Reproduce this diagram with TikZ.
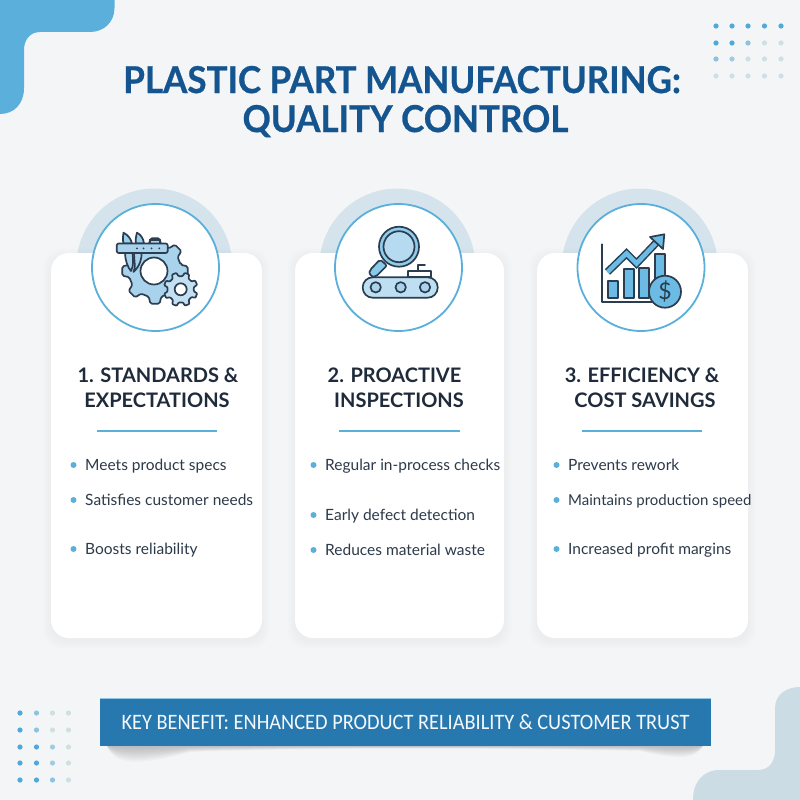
\documentclass[tikz,border=0pt]{standalone}
\usepackage{fontspec}
\setmainfont{Lato}
\newfontfamily\bannerfont[FakeStretch=.925]{Carlito}
\newfontfamily\titlefont[UprightFont=*-Bold,UprightFeatures={FakeStretch=.945,FakeBold=.7}]{Lato}
\definecolor{bgc}{HTML}{F4F5F7}
\definecolor{skyc}{HTML}{5BB0DB}
\definecolor{palec}{HTML}{CBDCE4}
\definecolor{archc}{HTML}{D5E4EC}
\definecolor{titlec}{HTML}{14558F}
\definecolor{headc}{HTML}{1F2B3A}
\definecolor{bodyc}{HTML}{2C3A4A}
\definecolor{bannerc}{HTML}{2878B0}
\definecolor{inkc}{HTML}{2B3D4F}
\definecolor{iconc}{HTML}{A9D3EC}
\definecolor{iconb}{HTML}{6BBBE5}
\definecolor{dotb}{HTML}{4FA9DA}
\definecolor{dotm}{HTML}{8CC3DE}
\definecolor{dotl}{HTML}{D0DFE6}
\tikzset{
  ttl/.style={font=\fontsize{37}{40}\selectfont\titlefont,text=titlec,anchor=base,inner sep=0pt},
  hd/.style={font=\fontsize{20}{24}\selectfont\bfseries,text=headc,anchor=base,inner sep=0pt},
  bodytxt/.style={font=\fontsize{15.5}{18}\selectfont,text=bodyc,anchor=base west,inner sep=0pt},
  bul/.style={circle,fill=skyc,minimum size=6pt,inner sep=0pt},
  divd/.style={draw=skyc,line width=1.8pt},
  ring/.style={circle,draw=skyc,line width=1.8pt,fill=white,minimum size=127pt,inner sep=0pt},
  ink/.style={draw=inkc,line width=1.7pt,line join=round,line cap=round},
}
\newcommand{\cardbox}[4]{% name,x1,x2,arc centre
  \fill[archc] (#4-78,253) arc[start angle=190,end angle=350,x radius=78,y radius=78] -- cycle;
  \foreach \s in {1,...,8}{\fill[black!60!blue,opacity=.004,rounded corners=18pt] (#2-\s,253-\s+3) rectangle (#3+\s,638+\s+3);}
  \fill[white,rounded corners=18pt] (#2,253) rectangle (#3,638);
  \node[ring] (#1) at (#4,267.5) {};
}
\newcommand{\gearpath}[6]{% cx,cy,ro,ri,n,phase
  ({#1+#4*cos(#6-0.3*360/#5)},{#2+#4*sin(#6-0.3*360/#5)})
  \foreach \k in {1,...,#5}{
    -- ({#1+#3*cos(#6+(\k-1)*360/#5-0.18*360/#5)},{#2+#3*sin(#6+(\k-1)*360/#5-0.18*360/#5)})
    -- ({#1+#3*cos(#6+(\k-1)*360/#5+0.18*360/#5)},{#2+#3*sin(#6+(\k-1)*360/#5+0.18*360/#5)})
    -- ({#1+#4*cos(#6+(\k-1)*360/#5+0.3*360/#5)},{#2+#4*sin(#6+(\k-1)*360/#5+0.3*360/#5)})
    -- ({#1+#4*cos(#6+\k*360/#5-0.3*360/#5)},{#2+#4*sin(#6+\k*360/#5-0.3*360/#5)})
  } -- cycle
}
\begin{document}
\begin{tikzpicture}[x=1pt,y=-1pt]
\useasboundingbox (0,0) rectangle (800,800);
\fill[bgc] (0,0) rectangle (800,800);
% corner shapes
\fill[skyc] (0,0) -- (114.5,0) -- (114.5,8) .. controls (114.5,22) and (104,32) .. (90,32) -- (40,32)
  .. controls (30,32) and (24,40) .. (24,50) -- (24,88) .. controls (24,104) and (14,114) .. (0,114) -- cycle;
\fill[palec] (800,800) -- (693,800) .. controls (693,782) and (703,770) .. (720,770) -- (758,770)
  .. controls (769,770) and (775,762) .. (775,750) -- (775,708) .. controls (775,695) and (786,687) .. (800,687) -- cycle;
% dots
\foreach \x/\y/\c in {716/26/dotb,732/26/dotb,748/26/dotb,764.5/26/dotb,781/26/dotb,
  716/43/dotb,732/43/dotb,748/43/dotm,764.5/43/dotl,781/43/dotl,
  716/59/dotm,732/59/dotm!70!dotl,748/59/dotl,764.5/59/dotl,781/59/dotl,
  716/76/dotl,732/76/dotl,748/76/dotl,764.5/76/dotl,781/76/dotl,
  20/713/dotb,36.5/713/dotm,52.5/713/dotl,68.5/713/dotl,
  20/730/dotb,36.5/730/dotm,52.5/730/dotl,68.5/730/dotl,
  20/747/dotb,36.5/747/dotb,52.5/747/dotm!70!dotl,68.5/747/dotl,
  20/763/dotb,36.5/763/dotb,52.5/763/dotm!70!dotl,68.5/763/dotl,
  20/780/dotb,36.5/780/dotb,52.5/780/dotm,68.5/780/dotl}
  {\fill[\c] (\x,\y) circle[radius=2.6];}
% title
\node[ttl] (title1) at (402,93) {PLASTIC PART MANUFACTURING:};
\node[ttl] (title2) at (405.5,132) {QUALITY CONTROL};
% cards
\cardbox{ringa}{51}{262}{155.5}
\cardbox{ringb}{295}{504}{398.5}
\cardbox{ringc}{537}{748}{641}
% icon 1
\draw[ink,fill=iconc,rounded corners=1.5pt] \gearpath{155}{271}{33}{26.5}{8}{0};
\draw[ink,fill=white] (154,271) circle[radius=13.5];
\draw[ink,fill=iconc!70,rounded corners=.8pt] \gearpath{180.7}{289.3}{17}{13.3}{8}{22};
\draw[ink,fill=white] (180.7,289.3) circle[radius=6];
\draw[ink,fill=iconb!70] (123.5,243.5) .. controls (122.5,240) and (123,236) .. (123.5,232.7) .. controls (128,235) and (131,239) .. (132,243.5) -- cycle;
\draw[ink,fill=iconb!70] (135.7,243.5) .. controls (135.5,240) and (136,236) .. (137,232.7) .. controls (141,234.5) and (143.5,239) .. (144,243.5) -- cycle;
\draw[ink,fill=iconc] (125,253) .. controls (125,260) and (128,268) .. (131,271) .. controls (134,266) and (133,258) .. (132.5,253) -- cycle;
\draw[ink,fill=iconc] (134,253) .. controls (134,260) and (136,268) .. (133.5,272) .. controls (140,266) and (142,258) .. (141.5,253) -- cycle;
\draw[ink,fill=iconc] (150,243.5) rectangle (160,240);
\draw[ink,fill=iconc,rounded corners=2pt] (116.7,243.5) rectangle (167.7,253);
\foreach \x in {137,143.5,151.5,159.3}{\fill[inkc] (\x,248.3) circle[radius=1];}
% icon 2
\draw[ink,fill=iconb!80,rounded corners=2pt] (380,259.5) -- (387,265.5) -- (376,276.5) .. controls (372,277) and (369,274) .. (370,270) -- cycle;
\draw[ink,fill=iconb!75] (399,246.7) circle[radius=20];
\draw[ink,fill=iconc!85] (399,246.7) circle[radius=15.5];
\draw[ink,fill=white] (408,277.3) rectangle (430.7,270.7);
\draw[ink] (418.3,270.7) -- (418.3,265) -- (425,265);
\draw[ink,fill=iconc!75,rounded corners=10pt] (362.7,277.3) rectangle (437.7,297.7);
\foreach \x in {375.7,400.7,425}{\draw[ink,fill=iconc] (\x,287.3) circle[radius=5.2];}
% icon 3
\foreach \a/\b/\c in {608.3/618.3/280.7,624/634/269.3,639.3/649.3/268.3,655/665/254}
  {\draw[ink,fill=iconb] (\a,\c) rectangle (\b,297.7);}
\draw[ink] (601.7,244.3) -- (601.7,301.7) -- (652,301.7);
\draw[inkc,line width=7.6pt,line cap=butt,line join=miter] (607.5,272) -- (626.5,253.5) -- (636.5,263.5) -- (656,243);
\draw[iconb,line width=4.6pt,line cap=butt,line join=miter] (607.5,272) -- (626.5,253.5) -- (636.5,263.5) -- (656,243);
\draw[ink,fill=iconb] (664.3,234.3) -- (650,237) -- (663,249) -- cycle;
\draw[ink,fill=iconb] (665,291.7) circle[radius=16];
\node[font=\fontsize{23}{24}\selectfont,text=inkc,inner sep=0pt] (dollar) at (665,291.7) {\$};
% headings
\node[hd] (h1a) at (158,382) {1. STANDARDS \&};
\node[hd] (h1b) at (157,407.5) {EXPECTATIONS};
\node[hd] (h2a) at (394.5,382) {2. PROACTIVE};
\node[hd] (h2b) at (399,407.5) {INSPECTIONS};
\node[hd] (h3a) at (642,382) {3. EFFICIENCY \&};
\node[hd] (h3b) at (645,407.5) {COST SAVINGS};
% dividers
\draw[divd] (97,431) -- (217,431);
\draw[divd] (339,431) -- (460,431);
\draw[divd] (582,431) -- (702,431);
% bullets
\foreach \n/\x/\y/\t in {
  a/85/470/Meets product specs,
  b/85/505/Satisfies customer needs,
  c/85/554/Boosts reliability,
  d/325/470/Regular in-process checks,
  e/325/520/Early defect detection,
  f/325/555/Reduces material waste,
  g/568/470/Prevents rework,
  h/568/505/{\fontsize{15}{18}\selectfont Maintains production speed},
  i/568/554/Increased profit margins}
{\node[bodytxt] (b\n) at (\x,\y) {\t};
 \node[bul] (m\n) at ([xshift=-11.5pt,yshift=5pt]b\n.base west) {};}
% banner shadow
\foreach \d in {2,4,...,20}{
  \fill[black,opacity=.022] (107,746) .. controls (114,746+\d) and (140,746+\d) .. (190,746+.3*\d)
    .. controls (300,746+.08*\d) and (500,746+.08*\d) .. (640,746+.25*\d)
    .. controls (670,746+.6*\d) and (695,746+.8*\d) .. (703,746) -- cycle;}
\node[draw=none,fill=bannerc,minimum width=611pt,minimum height=47.5pt,inner sep=0pt] (banner) at (405.5,722.2) {};
\draw[color=skyc!70!white,line width=.6pt] (banner.north west) -- (banner.north east);
\node[font=\fontsize{22}{24}\selectfont\bannerfont,text=white!93!skyc,inner sep=0pt] (bannertext) at (405.5,722) {KEY BENEFIT: ENHANCED PRODUCT RELIABILITY \& CUSTOMER TRUST};
\end{tikzpicture}
\end{document}
